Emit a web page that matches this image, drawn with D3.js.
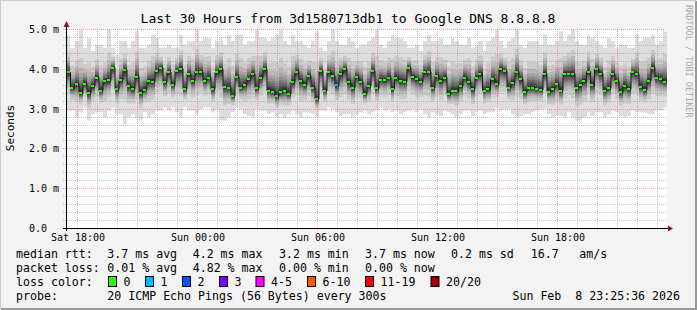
<!DOCTYPE html>
<html>
<head>
<meta charset="utf-8">
<title>SmokePing - 30 hours</title>
<script src="https://d3js.org/d3.v7.min.js"></script>
<style>
  body { margin: 0; background: #f0f0f0; }
  svg { display: block; font-family: "DejaVu Sans Mono", monospace; }
  svg text { white-space: pre; }
</style>
</head>
<body>
<svg id="chart" width="697" height="310"></svg>
<script>
// median rtt per 12 min step (ms), Sat 17:27 -> Sun 23:27
var median = [
  3.92,3.54,3.63,3.40,3.63,3.40,3.58,3.79,3.46,3.71,3.72,4.04,3.50,3.73,3.98,3.58,3.50,3.81,3.41,3.49,3.71,3.69,3.96,4.04,3.67,
  3.93,3.61,3.96,4.01,3.50,3.88,3.71,3.94,3.93,3.71,3.79,3.50,3.92,4.00,3.56,3.54,3.33,3.81,3.54,3.61,3.75,3.88,3.52,3.79,4.00,
  3.46,3.42,3.33,3.42,3.46,3.38,3.67,3.94,3.71,3.61,3.83,3.54,3.25,3.96,3.46,3.92,3.83,3.60,3.88,4.00,3.67,3.54,3.81,3.69,3.38,
  3.58,3.96,3.52,3.74,3.73,3.79,3.50,3.78,3.71,3.69,4.03,3.81,3.75,3.69,3.93,3.94,3.54,3.83,3.71,3.79,3.38,3.46,3.46,3.58,3.79,
  3.67,3.50,3.79,3.88,3.46,3.50,3.75,3.63,4.00,3.96,3.54,3.65,3.94,3.75,3.42,3.54,3.54,3.50,3.48,3.88,3.44,3.50,3.63,3.46,3.88,
  3.88,3.88,3.54,3.60,3.71,3.94,3.61,4.00,3.89,3.46,3.53,3.88,3.71,3.42,3.58,3.50,3.93,3.88,3.56,3.48,3.71,4.04,3.79,3.75,3.69
];
// slowest ping per step (ms)
var pingMax = [
  4.87,4.54,4.71,5.00,4.54,4.79,4.46,4.62,4.62,4.54,5.00,4.54,4.37,4.71,4.71,4.54,4.71,4.95,4.54,4.54,4.62,4.87,4.79,4.54,4.54,
  4.62,4.54,4.54,4.87,4.62,4.71,4.71,5.00,4.71,4.79,4.79,4.54,4.71,4.79,4.62,4.87,4.71,4.87,4.87,4.62,4.71,4.71,5.00,4.79,4.79,
  4.71,4.79,4.87,5.00,4.71,4.62,4.87,4.71,4.71,4.62,4.54,4.71,4.95,4.54,4.46,4.71,5.00,4.71,4.62,4.62,4.79,4.71,4.54,4.62,4.62,
  4.71,4.79,5.00,4.62,4.54,4.71,4.87,4.79,4.79,4.71,4.54,4.54,4.62,4.46,4.71,4.87,4.71,4.71,4.79,4.62,4.62,4.79,4.71,4.62,4.62,
  4.79,4.54,4.62,4.71,4.46,4.71,4.79,5.00,4.71,4.54,4.71,4.79,5.00,4.62,4.54,4.71,4.71,4.71,4.62,4.87,4.62,4.62,4.71,4.95,4.71,
  4.87,5.00,4.71,4.62,4.62,4.87,4.79,4.71,4.62,4.54,4.79,4.71,4.54,4.62,4.62,4.54,4.54,4.87,4.71,4.79,4.79,4.87,4.62,4.71,4.95
];
// fastest ping per step (ms)
var pingMin = [
  2.96,2.96,2.79,2.92,3.04,2.71,2.87,2.92,2.92,2.79,2.96,3.04,2.87,2.87,2.62,2.79,2.87,2.79,2.71,2.92,2.79,2.87,2.96,2.96,3.04,
  2.96,3.04,2.92,2.79,3.04,2.96,2.96,2.87,3.00,3.04,3.04,2.92,3.00,2.71,2.71,2.79,2.92,3.04,3.00,2.87,2.83,2.79,3.00,2.96,2.96,
  2.87,2.92,2.79,2.87,2.79,2.87,2.96,2.87,2.79,2.92,2.92,2.87,2.79,2.96,2.96,3.04,3.00,2.92,2.83,2.87,2.87,2.79,2.87,2.92,2.96,
  2.87,2.92,2.96,3.04,2.96,3.00,2.92,2.96,2.87,2.92,2.96,3.00,2.92,3.00,2.87,2.79,2.92,2.87,2.83,2.96,2.92,2.87,2.79,2.87,2.96,
  2.96,2.83,2.92,2.96,2.87,2.92,2.92,3.04,2.96,3.00,3.00,2.87,2.79,2.83,2.87,2.87,2.92,2.96,3.00,3.00,2.87,2.79,2.83,2.83,2.79,
  2.92,2.79,2.71,2.71,2.79,2.92,2.83,2.92,2.92,2.79,2.87,2.96,2.92,2.83,2.79,2.83,2.96,2.92,2.92,2.92,2.87,2.87,2.96,2.96,3.04
];
// steps with packet loss and how many pings were lost
var lossSteps = [67];
var lossPings = [1];

var yTicks = [0, 1, 2, 3, 4, 5];
var lossLabels = ["0", "1", "2", "3", "4-5", "6-10", "11-19", "20/20"];
var lossColors = ["#26ff00", "#00b8ff", "#0059ff", "#7e00ff", "#ff00ff", "#ff5500", "#ff0000", "#a10000"];
var lossLimits = [0, 1, 2, 3, 5, 10, 19, 20];

var rttStats = ["3.7 ms avg", "4.2 ms max", "3.2 ms min", "3.7 ms now", "0.2 ms sd", "16.7", "am/s"];
var lossStats = ["0.01 % avg", "4.82 % max", "0.00 % min", "0.00 % now"];

var svg = d3.select("#chart");
var t0 = new Date(2026, 1, 7, 17, 27);
var t1 = new Date(2026, 1, 8, 23, 27);
var stepMs = (t1 - t0) / median.length;

var x = d3.scaleTime().domain([t0, t1]).range([66.5, 666.5]);
var y = d3.scaleLinear().domain([0, 5]).range([228.5, 29.5]);
var px = function(v) { return Math.round(v - 0.5) + 0.5; };
var stepX = function(i) { return Math.round(x(new Date(+t0 + i * stepMs))); };

// frame
svg.append("rect").attr("width", 697).attr("height", 310).attr("fill", "#f3f3f3");
svg.append("path").attr("d", "M0,309V0H696").attr("stroke", "#cbcbcb").attr("stroke-width", 2).attr("fill", "none");
svg.append("path").attr("d", "M1,309H696V1").attr("stroke", "#999999").attr("stroke-width", 2).attr("fill", "none");
svg.append("rect").attr("x", 67).attr("y", 29).attr("width", 600).attr("height", 200).attr("fill", "#ffffff");

// smoke: 10 layers from outermost (light) to innermost (dark)
var spread = [1, 0.55, 0.4, 0.31, 0.25, 0.2, 0.16, 0.12, 0.08, 0.05];
var smoke = svg.append("g");
spread.forEach(function(f, k) {
  var g = Math.round(190 / 10 * (10 - (k + 1))) + 50;
  smoke.append("g").selectAll("rect")
    .data(median)
    .enter().append("rect")
    .attr("x", function(d, i) { return stepX(i); })
    .attr("width", function(d, i) { return stepX(i + 1) - stepX(i); })
    .attr("y", function(d, i) { return y(d + f * (pingMax[i] - d)); })
    .attr("height", function(d, i) { return y(d - f * (d - pingMin[i])) - y(d + f * (pingMax[i] - d)); })
    .attr("fill", d3.rgb(g, g, g));
});

// grid
var grid = svg.append("g");
d3.range(0, 5.01, 0.2).forEach(function(v) {
  var major = Math.abs(v - Math.round(v)) < 0.01;
  grid.append("line")
    .attr("x1", 63).attr("x2", 667)
    .attr("y1", px(y(v))).attr("y2", px(y(v)))
    .attr("stroke", major ? "rgba(255,90,90,0.55)" : "rgba(140,140,140,0.5)")
    .attr("stroke-dasharray", "1,1");
});
d3.timeHour.range(t0, t1).forEach(function(t) {
  var major = t.getHours() % 3 === 0;
  grid.append("line")
    .attr("x1", px(x(t))).attr("x2", px(x(t)))
    .attr("y1", 29).attr("y2", 231)
    .attr("stroke", major ? "rgba(255,90,90,0.55)" : "rgba(140,140,140,0.5)")
    .attr("stroke-dasharray", "1,1");
});

// median line + loss coloured marks
var med = svg.append("g");
med.append("path")
  .datum(median)
  .attr("d", d3.line()
    .x(function(d, i) { return stepX(i) + 2; })
    .y(function(d) { return y(d); })
    .curve(d3.curveStep))
  .attr("fill", "none").attr("stroke", "#1a1a1a").attr("stroke-width", 1);

function lossColor(i) {
  var j = lossSteps.indexOf(i);
  if (j < 0) return lossColors[0];
  var n = lossPings[j];
  for (var k = 0; k < lossLimits.length; k++) if (n <= lossLimits[k]) return lossColors[k];
  return lossColors[lossColors.length - 1];
}
med.selectAll("rect")
  .data(median)
  .enter().append("rect")
  .attr("x", function(d, i) { return stepX(i); })
  .attr("width", 3)
  .attr("y", function(d) { return Math.round(y(d)) - 1; })
  .attr("height", 2)
  .attr("fill", function(d, i) { return lossColor(i); });

// axes
svg.append("line").attr("x1", 63).attr("x2", 669).attr("y1", 228.5).attr("y2", 228.5).attr("stroke", "#000");
svg.append("line").attr("x1", 66.5).attr("x2", 66.5).attr("y1", 231).attr("y2", 25).attr("stroke", "#000");
svg.append("path").attr("d", "M668,225.5L673,228.5L668,231.5Z").attr("fill", "#7f1f1f");
svg.append("path").attr("d", "M63.5,27L66.5,21L69.5,27Z").attr("fill", "#7f1f1f");

svg.append("g").selectAll("text")
  .data(yTicks)
  .enter().append("text")
  .attr("x", 29)
  .attr("y", function(d) { return y(d) + 3.5; })
  .attr("font-size", "10px")
  .text(function(d) { return d === 0 ? "0.0" : d.toFixed(1) + " m"; });

var xAxis = d3.axisBottom(x)
  .tickValues(d3.timeHour.range(t0, t1).filter(function(t) { return t.getHours() % 6 === 0; }))
  .tickFormat(d3.timeFormat("%a %H:%M"))
  .tickSize(0).tickPadding(0);
var xg = svg.append("g").attr("transform", "translate(0,232)").call(xAxis);
xg.select(".domain").remove();
xg.selectAll("text").attr("font-family", "DejaVu Sans Mono").attr("font-size", "10px")
  .attr("fill", "#000").attr("dy", "0.71em").attr("y", 2);

// titles
svg.append("text").attr("x", 348).attr("y", 23).attr("text-anchor", "middle")
  .attr("font-size", "13px").text("Last 30 Hours from 3d1580713db1 to Google DNS 8.8.8.8");
svg.append("text").attr("transform", "translate(14,128) rotate(-90)").attr("text-anchor", "middle")
  .attr("font-size", "11px").text("Seconds");
svg.append("text").attr("transform", "translate(686,5) rotate(90)")
  .attr("font-size", "8.5px").attr("fill", "#a8a8a8").text("RRDTOOL / TOBI OETIKER");

// legend
var leg = svg.append("g").attr("font-size", "11.6px");
var statX = [107.3, 192.7, 279, 365, 451, 530.7, 579.3];
leg.append("text").attr("x", 16).attr("y", 258).text("median rtt:");
rttStats.forEach(function(s, i) { leg.append("text").attr("x", statX[i]).attr("y", 258).text(s); });
leg.append("text").attr("x", 16).attr("y", 272).text("packet loss:");
lossStats.forEach(function(s, i) { leg.append("text").attr("x", statX[i]).attr("y", 272).text(s); });
leg.append("text").attr("x", 16).attr("y", 286).text("loss color:");
var boxX = [108.5, 145.5, 182.5, 219.5, 256, 307.5, 365.5, 431];
lossLabels.forEach(function(s, i) {
  leg.append("rect").attr("x", boxX[i]).attr("y", 276.5).attr("width", 8).attr("height", 10)
    .attr("fill", lossColors[i]).attr("stroke", "#000");
  leg.append("text").attr("x", boxX[i] + 15).attr("y", 286).text(s);
});
leg.append("text").attr("x", 16).attr("y", 300).text("probe:");
leg.append("text").attr("x", 107.3).attr("y", 300).text("20 ICMP Echo Pings (56 Bytes) every 300s");
leg.append("text").attr("x", 680).attr("y", 300).attr("text-anchor", "end").text("Sun Feb  8 23:25:36 2026");
</script>
</body>
</html>
